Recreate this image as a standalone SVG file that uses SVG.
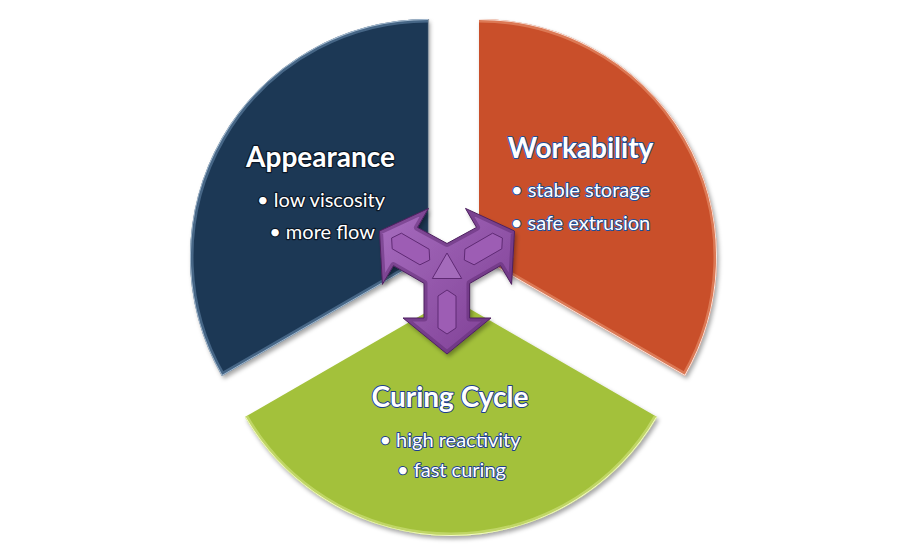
<svg xmlns="http://www.w3.org/2000/svg" width="900" height="550" viewBox="0 0 900 550">
<style>
  .title{font-family:Lato,"Liberation Sans",sans-serif;font-weight:bold;font-size:28px;fill:#ffffff;text-anchor:middle;paint-order:stroke;stroke-linejoin:round}
  .item{font-family:Lato,"Liberation Sans",sans-serif;font-size:20px;fill:#ffffff;text-anchor:middle;paint-order:stroke;stroke-linejoin:round}
  .navyTxt{stroke:#0b1726;stroke-width:2.4}
  .orTxt{stroke:#1d4f9c;stroke-width:2}
  .grTxt{stroke:#1e3f8f;stroke-width:2}
  .rim{fill:none;stroke-linejoin:round;stroke-linecap:round}
  .panel{fill:#9d5db4;stroke:#5f2a74;stroke-width:1}
</style>
<defs>
  <filter id="shadow" x="-10%" y="-10%" width="130%" height="130%">
    <feDropShadow dx="2" dy="3" stdDeviation="2" flood-color="#000" flood-opacity="0.35"/>
  </filter>
  <path id="pNavy" d="M428,257 L428,19 A238,238 0 0 0 221.9,376 Z"/>
  <path id="pOrange" d="M479,257 L479,19 A238,238 0 0 1 685.1,376 Z"/>
  <path id="pGreen" d="M451,298 L657.1,417 A238,238 0 0 1 244.9,417 Z"/>
  <path id="hNavy" d="M428,19 A238,238 0 0 0 221.9,376 L428,257"/>
  <path id="hOrange" d="M479,19 A238,238 0 0 1 685.1,376 L479,257"/>
  <path id="hGreen" d="M657.1,417 A238,238 0 0 1 244.9,417"/>
  <polygon id="pArrow" points="470,318 491,318 447,354 403,318 424,318 424,283.3 393.5,265.7 382.4,284.4 379.5,231 428.5,208.4 417.5,227.4 447,243.5 476.5,227.4 465.5,208.4 514.5,231 511.6,284.4 500.5,265.7 470,283.3"/>
  <clipPath id="cNavy"><use href="#pNavy"/></clipPath>
  <clipPath id="cOrange"><use href="#pOrange"/></clipPath>
  <clipPath id="cGreen"><use href="#pGreen"/></clipPath>
  <clipPath id="cArrow"><use href="#pArrow"/></clipPath>
  <linearGradient id="gArrow" x1="0" y1="0" x2="1" y2="1">
    <stop offset="0" stop-color="#a86ec0"/>
    <stop offset="1" stop-color="#7c3d92"/>
  </linearGradient>
</defs>

<g id="appearance">
  <use href="#pNavy" fill="#1c3855" filter="url(#shadow)"/>
  <use href="#hNavy" class="rim" stroke="#6f93b8" stroke-width="7" stroke-opacity="0.5" clip-path="url(#cNavy)"/>
  <use href="#hNavy" class="rim" stroke="#c9dcee" stroke-width="1.8" stroke-opacity="0.75" clip-path="url(#cNavy)"/>
  <line x1="428.5" y1="19" x2="428.5" y2="257" stroke="#8e9aa6" stroke-width="1.2"/>
  <text class="title navyTxt" x="320.5" y="167">Appearance</text>
  <text class="item navyTxt" x="321" y="207" stroke-width="1.6">• low viscosity</text>
  <text class="item navyTxt" x="322" y="239" stroke-width="1.6">• more flow</text>
</g>

<g id="workability">
  <use href="#pOrange" fill="#c9502a" filter="url(#shadow)"/>
  <use href="#hOrange" class="rim" stroke="#f0a37f" stroke-width="7" stroke-opacity="0.5" clip-path="url(#cOrange)"/>
  <use href="#hOrange" class="rim" stroke="#ffffff" stroke-width="1.8" stroke-opacity="0.85" clip-path="url(#cOrange)"/>
  <text class="title orTxt" x="580.5" y="158">Workability</text>
  <text class="item orTxt" x="580.5" y="197" stroke-width="1.5">• stable storage</text>
  <text class="item orTxt" x="580.5" y="230" stroke-width="1.5">• safe extrusion</text>
</g>

<g id="curing-cycle">
  <use href="#pGreen" fill="#a3c13b" filter="url(#shadow)"/>
  <use href="#hGreen" class="rim" stroke="#d8e88a" stroke-width="7" stroke-opacity="0.55" clip-path="url(#cGreen)"/>
  <use href="#hGreen" class="rim" stroke="#fbffd8" stroke-width="1.8" stroke-opacity="0.85" clip-path="url(#cGreen)"/>
  <text class="title grTxt" x="450" y="406.5">Curing Cycle</text>
  <text class="item grTxt" x="450" y="446.5" stroke-width="1.5">• high reactivity</text>
  <text class="item grTxt" x="451.5" y="477" stroke-width="1.5">• fast curing</text>
</g>

<g id="connectors">
  <g id="three-way-arrow">
    <use href="#pArrow" fill="url(#gArrow)" filter="url(#shadow)"/>
    <use href="#pArrow" class="rim" stroke="#5e2a72" stroke-width="7" stroke-opacity="0.5" clip-path="url(#cArrow)"/>
    <use href="#pArrow" class="rim" stroke="#4e2160" stroke-width="1"/>
    <polygon class="panel" points="447,290 456,296 456,328 447,334 438,328 438,296"/>
    <polygon class="panel" points="429.7,260 419.9,264.8 392.2,248.8 391.6,238 401.4,233.2 429.1,249.2"/>
    <polygon class="panel" points="464.3,260 464.9,249.2 492.6,233.2 502.4,238 501.8,248.8 474.1,264.8"/>
    <polygon points="447,253 461.7,278.5 432.3,278.5" fill="#a46bbb" stroke="#5f2a74" stroke-width="1"/>
  </g>
</g>
</svg>
